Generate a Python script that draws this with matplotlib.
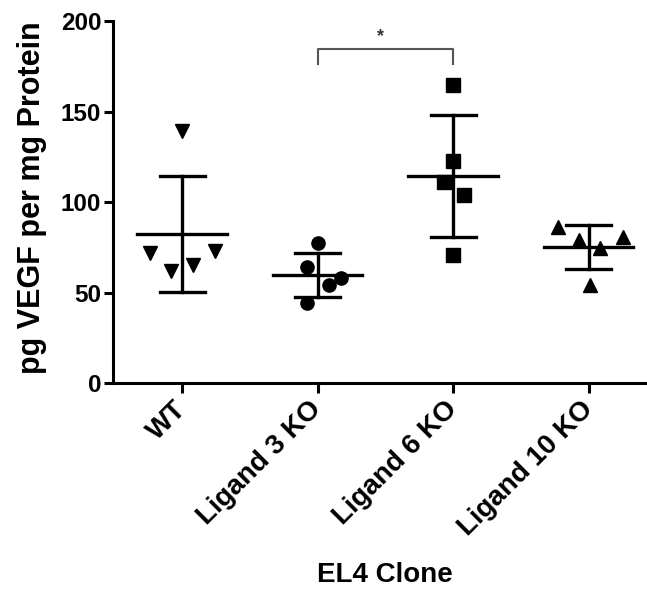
import numpy as np
import matplotlib
matplotlib.use("Agg")
import matplotlib.pyplot as plt

plt.rcParams['font.family'] = ['Liberation Sans', 'DejaVu Sans']
plt.rcParams['font.weight'] = 'bold'

categories = ["WT", "Ligand 3 KO", "Ligand 6 KO", "Ligand 10 KO"]
wt = [139, 72, 62, 65, 73]
ligand3 = [77.6, 64.3, 54.3, 58.2, 44.3]
ligand6 = [164.5, 122.4, 110.8, 103.6, 70.9]
ligand10 = [86.4, 79.2, 74.8, 80.9, 54.3]
# horizontal scatter offsets of the points within each group
jitter = [
    [0.0, -0.24, -0.08, 0.08, 0.24],
    [0.0, -0.08, 0.08, 0.17, -0.08],
    [0.0, 0.0, -0.07, 0.08, 0.0],
    [-0.23, -0.07, 0.085, 0.25, 0.01],
]
markers = ["v", "o", "s", "^"]
marker_sizes = [10.5, 9.5, 10.5, 10.5]
groups = [wt, ligand3, ligand6, ligand10]
yticks = [0, 50, 100, 150, 200]

fig = plt.figure(figsize=(6.47, 5.90), dpi=100)
ax = fig.add_axes([0.1747, 0.3508, 0.8253, 0.6136])

lw = 2.4
for i, (vals, jit, mk, ms) in enumerate(zip(groups, jitter, markers, marker_sizes)):
    vals = np.asarray(vals, dtype=float)
    x = i + np.asarray(jit)
    ax.plot(x, vals, linestyle='none', marker=mk, markersize=ms,
            color='black', zorder=3)
    m = vals.mean()
    sd = vals.std(ddof=1)
    ax.plot([i - 0.33, i + 0.33], [m, m], color='black', lw=lw, zorder=2)
    ax.plot([i, i], [m - sd, m + sd], color='black', lw=lw, zorder=2)
    for v in (m - sd, m + sd):
        ax.plot([i - 0.167, i + 0.167], [v, v], color='black', lw=lw, zorder=2)

# significance bracket between Ligand 3 KO and Ligand 6 KO
ax.plot([1, 1, 2, 2], [176, 184.5, 184.5, 176], color='#555555', lw=1.5,
        clip_on=False)
ax.text(1.46, 191.5, "*", ha='center', va='center', fontsize=13,
        fontweight='bold', color='#333333')

ax.set_xlim(-0.51, 3.43)
ax.set_ylim(0, 200)
ax.set_yticks(yticks)
ax.set_yticklabels([str(t) for t in yticks], fontsize=17.5, fontweight='bold')
ax.set_xticks(range(len(categories)))
ax.set_xticklabels(categories, rotation=45, ha='right', va='center',
                   rotation_mode='anchor', fontsize=20, fontweight='bold')

for s in ('top', 'right'):
    ax.spines[s].set_visible(False)
for s in ('left', 'bottom'):
    ax.spines[s].set_linewidth(2.2)
ax.tick_params(axis='both', width=2.2, direction='out')
ax.tick_params(axis='x', length=7, pad=9)
ax.tick_params(axis='y', length=6.5, pad=2)

ax.set_ylabel("pg VEGF per mg Protein", fontsize=22, fontweight='bold',
              va='center', ha='center')
ax.yaxis.set_label_coords(-0.152, 0.512)
ax.set_xlabel("EL4 Clone", fontsize=20, fontweight='bold', va='center')
ax.xaxis.set_label_coords(0.51, -0.53)

fig.savefig("out.png", dpi=100, facecolor='white')
